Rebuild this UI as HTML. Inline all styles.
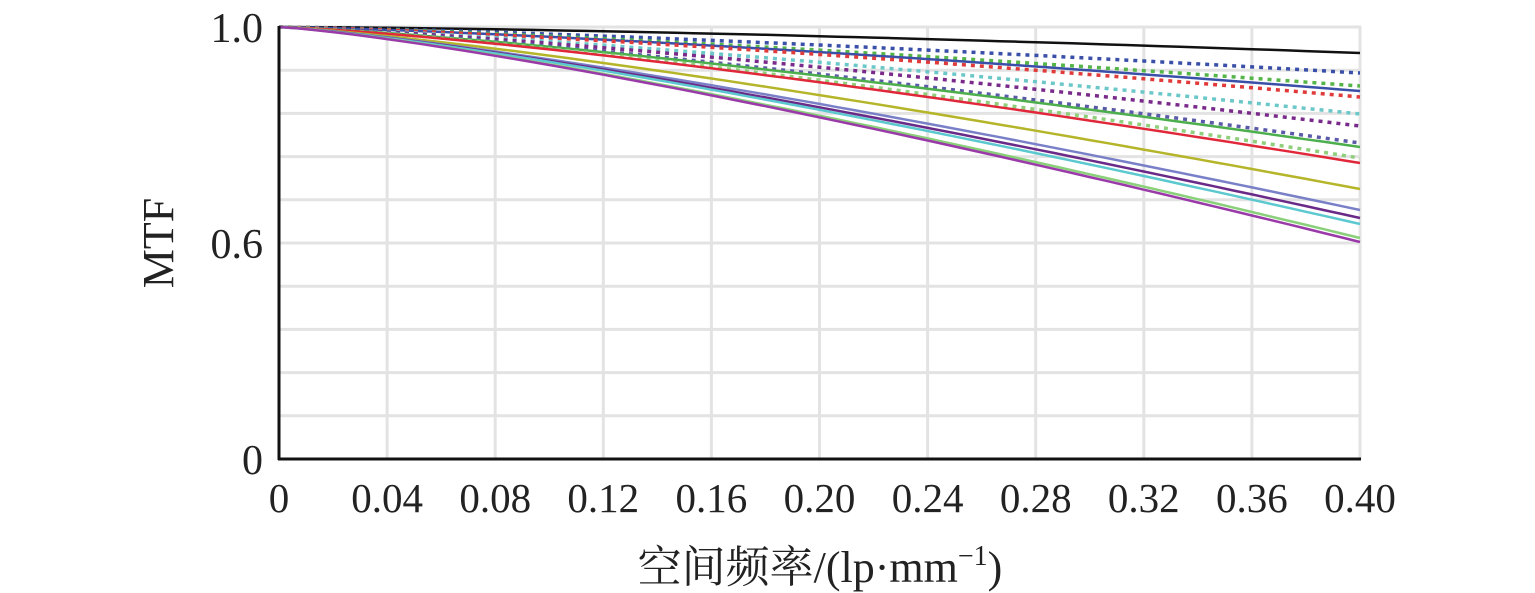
<!DOCTYPE html><html><head><meta charset="utf-8"><style>body{margin:0;background:#fff}svg{display:block}text{font-family:"Liberation Serif","Noto Serif CJK SC",serif;fill:#222}</style></head><body>
<svg id="s" width="1535" height="593" xmlns="http://www.w3.org/2000/svg">
<g id="grid" stroke="#e3e3e3" stroke-width="3"></g>
<g id="curves" fill="none"></g>
<line x1="279" y1="26" x2="279" y2="460" stroke="#111" stroke-width="3"/>
<line x1="278" y1="459" x2="1361" y2="459" stroke="#111" stroke-width="3"/>
<g font-size="42" text-anchor="end"><text x="263" y="42">1.0</text><text x="263" y="258">0.6</text><text x="263" y="474">0</text></g>
<g id="xl" font-size="41" text-anchor="middle"></g>
<text font-size="44" text-anchor="middle" transform="translate(158,243) rotate(-90)" dy="15">MTF</text>
<text x="820" y="582" font-size="44" text-anchor="middle">空间频率/(lp·mm<tspan font-size="28" dy="-17">−1</tspan><tspan dy="17">)</tspan></text>
</svg>
<script>
var NS="http://www.w3.org/2000/svg",g=document.getElementById('grid'),c=document.getElementById('curves'),xl=document.getElementById('xl');
function el(p,t,a){var e=document.createElementNS(NS,t);for(var k in a)e.setAttribute(k,a[k]);p.appendChild(e);return e}
for(var i=1;i<=10;i++){var y=459-i*43.2;el(g,'line',{x1:279,x2:1361,y1:y,y2:y});var x=279+i*108.1;el(g,'line',{x1:x,x2:x,y1:26,y2:459});}
var labs=['0','0.04','0.08','0.12','0.16','0.20','0.24','0.28','0.32','0.36','0.40'];
labs.forEach(function(l,i){var t=el(xl,'text',{x:279+i*108.1,y:512});t.textContent=l});
var S=[['#111',53,0,1.5],['#3a4fa8',73,1,1.35],['#55b548',86,1,1.35],['#3a4fa8',91,0,1.35],['#e03a3a',97,1,1.35],['#6cc8c8',114,1,1.3],['#7a2a8a',126,1,1.3],['#5a5aa8',143,1,1.3],['#4cae4c',147,0,1.3],['#8fce7a',158,1,1.3],['#e0283a',163,0,1.3],['#b5b52a',189,0,1.25],['#7a80c8',210,0,1.25],['#6a2a88',218,0,1.25],['#5cc8d0',224,0,1.25],['#8ad07a',238,0,1.25],['#9a3aa8',242,0,1.25]];
S.forEach(function(s){var d='';for(var k=0;k<=60;k++){var t=k/60,x=279+t*1081,y=27+(s[1]-27)*Math.pow(t,s[3]);d+=(k?'L':'M')+x.toFixed(1)+' '+y.toFixed(1)}
var a={d:d,stroke:s[0],'stroke-width':s[2]?3.5:2.5};if(s[2])a['stroke-dasharray']='4 5';el(c,'path',a)});
</script></body></html>
